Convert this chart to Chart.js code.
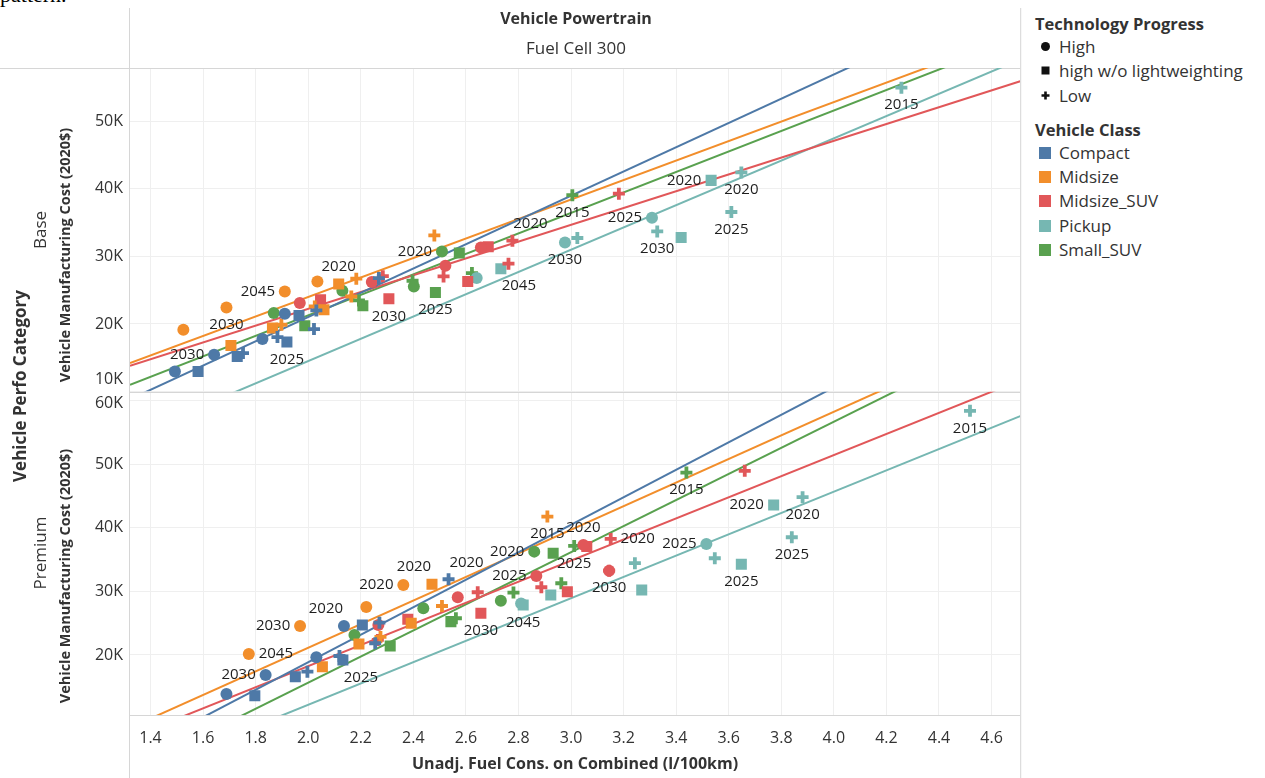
<!DOCTYPE html>
<html>
<head>
<meta charset="utf-8">
<title>Vehicle Manufacturing Cost vs Fuel Consumption – Fuel Cell 300</title>
<script src="https://cdn.jsdelivr.net/npm/chart.js@4/dist/chart.umd.min.js"></script>
<style>
  html, body { margin: 0; padding: 0; background: #fff; }
  body { width: 1265px; height: 778px; position: relative; overflow: hidden;
         font-family: "Open Sans", sans-serif; color: #333; }
  #wrap { position: absolute; left: 0; top: 0; width: 1030px; height: 778px; }
  .t { position: absolute; white-space: nowrap; line-height: 20px; }
  .c { transform: translate(-50%, -50%); }
  .rot { transform: translate(-50%, -50%) rotate(-90deg); }
  .b { font-weight: 700; }
  .sym { position: absolute; }
  .leg { position: absolute; left: 1059px; font-size: 17px; line-height: 20px; white-space: nowrap; color: #333; }
  .legtitle { position: absolute; left: 1035px; font-size: 16.5px; font-weight: 700; line-height: 20px; white-space: nowrap; color: #333; }
  .sw { position: absolute; left: 1039px; width: 12px; height: 12px; }
</style>
</head>
<body>
<div class="t" style="left:0;top:-15px;font-family:'Liberation Serif',serif;font-size:22px;color:#000;">pattern.</div>

<div id="wrap"><canvas id="chart" width="1030" height="778"></canvas></div>

<!-- column header -->
<div class="t c b" style="left:576px;top:18px;font-size:16px;">Vehicle Powertrain</div>
<div class="t c" style="left:576px;top:48px;font-size:17px;">Fuel Cell 300</div>

<!-- row headers and axis titles -->
<div class="t rot b" style="left:20px;top:386px;font-size:17px;">Vehicle Perfo Category</div>
<div class="t rot" style="left:40px;top:230px;font-size:17px;">Base</div>
<div class="t rot" style="left:40px;top:553px;font-size:17px;">Premium</div>
<div class="t rot b" style="left:65px;top:255px;font-size:14.5px;">Vehicle Manufacturing Cost (2020$)</div>
<div class="t rot b" style="left:65px;top:576px;font-size:14.5px;">Vehicle Manufacturing Cost (2020$)</div>

<!-- legends -->
<div class="legtitle" style="top:14px;">Technology Progress</div>
<svg class="sym" style="left:1040px;top:41px;" width="11" height="11"><circle cx="5.5" cy="5.5" r="4.5" fill="#111"/></svg>
<div class="leg" style="top:37px;">High</div>
<svg class="sym" style="left:1040px;top:65px;" width="11" height="11"><rect x="1.5" y="1.5" width="8" height="8" fill="#111"/></svg>
<div class="leg" style="top:61px;">high w/o lightweighting</div>
<svg class="sym" style="left:1040px;top:90px;" width="11" height="11"><path d="M5.5 1.5 V9.5 M1.5 5.5 H9.5" stroke="#111" stroke-width="2.6"/></svg>
<div class="leg" style="top:86px;">Low</div>

<div class="legtitle" style="top:120px;">Vehicle Class</div>
<div id="classLegend"></div>

<script>
// ---- categories ----
const vehicleClasses = ['Compact', 'Midsize', 'Midsize_SUV', 'Pickup', 'Small_SUV'];
const techCodes = ['H', 'W', 'L'];
const techLevels = ['High', 'high w/o lightweighting', 'Low'];

// ---- tick labels ----
const xTickValues = [1.4, 1.6, 1.8, 2.0, 2.2, 2.4, 2.6, 2.8, 3.0, 3.2, 3.4, 3.6, 3.8, 4.0, 4.2, 4.4, 4.6];
const baseTickValues = [10000, 20000, 30000, 40000, 50000];
const premiumTickValues = [20000, 30000, 40000, 50000, 60000];

// ---- axis ranges ----
const fuelRange = [1.322, 4.709];
const baseCostRange = [10000, 57900];
const premiumCostRange = [10570, 61400];

// ---- Base panel: [fuel l/100km, cost $, technology, year label] ----
const baseCompact = [
  [1.493, 12960, 'H', null], [1.581, 12960, 'W', null], [1.642, 15440, 'H', '2030'],
  [1.730, 15190, 'W', null], [1.752, 15690, 'L', null], [1.826, 17760, 'H', null],
  [1.883, 18060, 'L', null], [1.919, 17320, 'W', '2025'], [1.911, 21510, 'H', null],
  [1.965, 21260, 'W', null], [2.031, 22000, 'L', null], [2.022, 19240, 'L', null],
  [2.269, 26800, 'L', null]
];
const baseMidsize = [
  [1.525, 19140, 'H', null], [1.689, 22440, 'H', '2030'], [1.911, 24810, 'H', '2045'],
  [2.035, 26300, 'H', null], [1.706, 16810, 'W', null], [1.864, 19390, 'W', null],
  [1.898, 19880, 'L', null], [2.060, 22100, 'W', null], [2.025, 22590, 'L', null],
  [2.116, 25910, 'W', '2020'], [2.183, 26700, 'L', null], [2.164, 24070, 'L', null],
  [2.480, 33110, 'L', null]
];
const baseMidsizeSUV = [
  [1.968, 23100, 'H', null], [2.047, 23590, 'W', null], [2.242, 26200, 'H', null],
  [2.284, 27070, 'L', null], [2.307, 23730, 'W', '2030'], [2.522, 28620, 'H', null],
  [2.515, 27040, 'L', null], [2.607, 26300, 'W', null], [2.657, 31330, 'H', null],
  [2.685, 31440, 'W', null], [2.762, 28920, 'L', null], [2.777, 32330, 'L', '2020'],
  [3.182, 39290, 'L', null]
];
const basePickup = [
  [2.641, 26800, 'H', null], [2.733, 28180, 'W', '2045'], [2.977, 32070, 'H', '2030'],
  [3.024, 32730, 'L', null], [3.308, 35730, 'H', '2025'], [3.328, 33700, 'L', '2030'],
  [3.419, 32810, 'W', null], [3.533, 41260, 'W', '2020'], [3.648, 42440, 'L', '2020'],
  [3.610, 36580, 'L', '2025'], [4.257, 54990, 'L', '2015']
];
const baseSmallSUV = [
  [1.869, 21610, 'H', null], [1.987, 19730, 'W', null], [2.130, 24920, 'H', null],
  [2.193, 23480, 'L', null], [2.208, 22700, 'W', null], [2.402, 25560, 'H', null],
  [2.397, 26400, 'L', null], [2.484, 24670, 'W', '2025'], [2.509, 30740, 'H', '2020'],
  [2.575, 30500, 'W', null], [2.623, 27540, 'L', null], [3.005, 39070, 'L', '2015']
];

// ---- Premium panel ----
const premCompact = [
  [1.689, 13870, 'H', null], [1.797, 13600, 'W', null], [1.838, 16860, 'H', '2030'],
  [1.951, 16590, 'W', null], [1.997, 17370, 'L', null], [2.031, 19640, 'H', null],
  [2.132, 19210, 'W', '2025'], [2.119, 19840, 'L', null], [2.136, 24560, 'H', '2020'],
  [2.206, 24720, 'W', null], [2.271, 25080, 'L', null], [2.255, 21840, 'L', null],
  [2.534, 31900, 'L', '2020']
];
const premMidsize = [
  [1.774, 20160, 'H', '2045'], [1.969, 24560, 'H', '2030'], [2.221, 27550, 'H', null],
  [2.362, 31000, 'H', '2020'], [2.471, 31120, 'W', '2020'], [2.193, 21730, 'W', null],
  [2.054, 18160, 'W', null], [2.392, 24980, 'W', null], [2.275, 22830, 'L', null],
  [2.509, 27700, 'L', null], [2.910, 41750, 'L', '2015']
];
const premMidsizeSUV = [
  [2.267, 24720, 'H', null], [2.379, 25610, 'W', null], [2.265, 22360, 'L', null],
  [2.569, 29070, 'H', null], [2.645, 29860, 'L', null], [2.657, 26560, 'W', '2030'],
  [2.868, 32420, 'H', '2025'], [2.887, 30640, 'L', null], [2.986, 29950, 'W', null],
  [3.047, 37300, 'H', '2020'], [3.060, 37030, 'W', null], [3.151, 38240, 'L', '2020'],
  [3.145, 33250, 'H', null], [3.145, 33250, 'L', '2030'], [3.661, 48930, 'L', null]
];
const premPickup = [
  [2.810, 28100, 'H', null], [2.818, 27860, 'W', '2045'], [2.923, 29430, 'W', null],
  [3.243, 34420, 'L', null], [3.269, 30220, 'W', null], [3.515, 37450, 'H', '2025'],
  [3.547, 35200, 'L', null], [3.648, 34260, 'W', '2025'], [3.771, 43580, 'W', '2020'],
  [3.881, 44800, 'L', '2020'], [3.840, 38500, 'L', '2025'], [4.518, 58360, 'L', '2015']
];
const premSmallSUV = [
  [2.176, 23140, 'H', null], [2.312, 21420, 'W', null], [2.438, 27340, 'H', null],
  [2.543, 25240, 'W', null], [2.562, 25770, 'L', null], [2.733, 28540, 'H', null],
  [2.781, 29800, 'L', null], [2.860, 36240, 'H', '2020'], [2.932, 35990, 'W', null],
  [3.012, 37140, 'L', '2025'], [2.963, 31270, 'L', null], [3.439, 48660, 'L', '2015']
];

// ---- linear trend per class (cost at 1.4 and at 4.6 l/100km) ----
const baseTrendAt14 = [10250, 15330, 14770, 4610, 12170];
const baseTrendAt46 = [67720, 61510, 54580, 57380, 60710];
const premTrendAt14 = [5900, 10010, 8300, 2130, 3350];
const premTrendAt46 = [75020, 69340, 61360, 55700, 68950];

// ---- styling ----
const classColors = ['#4e79a7', '#f28e2b', '#e15759', '#76b7b2', '#59a14f'];
const techShapes = ['circle', 'rect', 'cross'];
const techRadius = [6, 7.8, 6];
const techBorder = [0, 0, 3.8];
// where each year label sits around its mark (default: below)
const baseLabelSide = {
  Compact: { 2: 'W' }, Midsize: { 2: 'W', 9: 'N' }, Midsize_SUV: { 11: 'NE' },
  Pickup: { 1: 'SE', 4: 'W', 7: 'W' }, Small_SUV: { 8: 'W' }
};
const premLabelSide = {
  Compact: { 2: 'W', 6: 'SE', 8: 'NW', 12: 'NE' },
  Midsize: { 0: 'E', 1: 'W', 3: 'W', 4: 'NW' },
  Midsize_SUV: { 6: 'W', 9: 'N', 11: 'E' },
  Pickup: { 5: 'W', 8: 'W' }, Small_SUV: { 7: 'W' }
};
const sideOffsets = { S: [0, 17.5], N: [0, -17.5], W: [-27, 0], E: [27, 0],
                      SE: [18, 17.5], NE: [18, -17], NW: [-18, -17] };
const gridColor = '#efefef';
const paneLineColor = '#d6d6d6';
const FONT = '"Open Sans", sans-serif';

// class legend swatches
const legendTops = [152.7, 176.7, 201, 226, 250];
document.getElementById('classLegend').innerHTML = vehicleClasses.map((c, i) =>
  `<div class="sw" style="top:${legendTops[i] - 6}px;background:${classColors[i]}"></div>` +
  `<div class="leg" style="top:${legendTops[i] - 10}px">${c}</div>`).join('');

function markDatasets(tables, sides, axisId, panelName) {
  const out = [];
  vehicleClasses.forEach((cls, ci) => {
    const rows = tables[ci];
    techCodes.forEach((code, ti) => {
      const idx = rows.map((r, i) => i).filter(i => rows[i][2] === code);
      if (!idx.length) return;
      out.push({
        label: `${panelName} · ${cls} · ${techLevels[ti]}`,
        yAxisID: axisId,
        data: idx.map(i => ({ x: rows[i][0], y: rows[i][1] })),
        yearLabels: idx.map(i => rows[i][3]),
        labelSides: idx.map(i => (sides[cls] && sides[cls][i]) || 'S'),
        pointStyle: techShapes[ti],
        pointRadius: techRadius[ti],
        pointBackgroundColor: classColors[ci],
        pointBorderColor: classColors[ci],
        pointBorderWidth: techBorder[ti],
        showLine: false,
        order: 0
      });
    });
  });
  return out;
}

function trendDatasets(at14, at46, axisId, panelName) {
  return vehicleClasses.map((cls, ci) => {
    const slope = (at46[ci] - at14[ci]) / (4.6 - 1.4);
    const costAt = x => at14[ci] + slope * (x - 1.4);
    return {
      label: `${panelName} · ${cls} trend`,
      yAxisID: axisId,
      data: fuelRange.map(x => ({ x, y: costAt(x) })),
      showLine: true,
      pointRadius: 0,
      borderColor: classColors[ci],
      borderWidth: 2,
      order: 1
    };
  });
}

const baseTables = [baseCompact, baseMidsize, baseMidsizeSUV, basePickup, baseSmallSUV];
const premTables = [premCompact, premMidsize, premMidsizeSUV, premPickup, premSmallSUV];

const datasets = [
  ...trendDatasets(baseTrendAt14, baseTrendAt46, 'yBase', 'Base'),
  ...trendDatasets(premTrendAt14, premTrendAt46, 'yPremium', 'Premium'),
  ...markDatasets(baseTables, baseLabelSide, 'yBase', 'Base'),
  ...markDatasets(premTables, premLabelSide, 'yPremium', 'Premium')
];

// keep every dataset inside its own panel
const panelClip = {
  id: 'panelClip',
  beforeDatasetDraw(chart, args) {
    const ds = chart.data.datasets[args.index];
    const s = chart.scales[ds.yAxisID];
    const a = chart.chartArea;
    const ctx = chart.ctx;
    ctx.save();
    ctx.beginPath();
    ctx.rect(a.left, s.top, a.right - a.left, s.bottom - s.top);
    ctx.clip();
  },
  afterDatasetDraw(chart) { chart.ctx.restore(); }
};

// pane borders and y tick labels kept inside their pane
const paneFrame = {
  id: 'paneFrame',
  beforeDatasetsDraw(chart) {
    const ctx = chart.ctx, a = chart.chartArea;
    const mid = chart.scales.yBase.bottom;
    ctx.save();
    ctx.strokeStyle = paneLineColor;
    ctx.lineWidth = 1;
    ctx.beginPath();
    ctx.moveTo(0, a.top + 0.5); ctx.lineTo(a.right, a.top + 0.5);
    ctx.moveTo(a.left, Math.round(mid) + 0.5); ctx.lineTo(a.right, Math.round(mid) + 0.5);
    ctx.moveTo(a.left, a.bottom + 0.5); ctx.lineTo(a.right, a.bottom + 0.5);
    ctx.moveTo(a.left - 0.5, 8); ctx.lineTo(a.left - 0.5, chart.height);
    ctx.moveTo(a.right + 0.5, 8); ctx.lineTo(a.right + 0.5, chart.height);
    ctx.stroke();

    ctx.fillStyle = '#333';
    ctx.font = '16px ' + FONT;
    ctx.textAlign = 'right';
    ctx.textBaseline = 'middle';
    [['yBase', baseTickValues], ['yPremium', premiumTickValues]].forEach(([id, ticks]) => {
      const s = chart.scales[id];
      ticks.forEach(v => {
        let y = s.getPixelForValue(v);
        y = Math.min(Math.max(y, s.top + 12), s.bottom - 12);
        ctx.fillText((v / 1000) + 'K', a.left - 7, y);
      });
    });
    ctx.restore();
  }
};

// year labels next to their marks
const yearLabels = {
  id: 'yearLabels',
  afterDatasetsDraw(chart) {
    const ctx = chart.ctx;
    ctx.save();
    ctx.font = '15px ' + FONT;
    ctx.fillStyle = '#1e1e1e';
    ctx.textAlign = 'center';
    ctx.textBaseline = 'middle';
    chart.data.datasets.forEach((ds, di) => {
      if (!ds.yearLabels) return;
      const meta = chart.getDatasetMeta(di);
      ds.yearLabels.forEach((txt, i) => {
        if (!txt) return;
        const el = meta.data[i];
        const [dx, dy] = sideOffsets[ds.labelSides[i]];
        ctx.fillText(txt, el.x + dx, el.y + dy);
      });
    });
    ctx.restore();
  }
};

Chart.defaults.font.family = FONT;
Chart.defaults.color = '#333';

new Chart(document.getElementById('chart'), {
  type: 'scatter',
  data: { datasets },
  options: {
    responsive: false,
    devicePixelRatio: 1,
    animation: false,
    events: [],
    layout: { padding: { top: 68, left: 0, right: 8, bottom: 0 } },
    plugins: { legend: { display: false }, tooltip: { enabled: false } },
    scales: {
      x: {
        type: 'linear',
        min: fuelRange[0], max: fuelRange[1],
        afterBuildTicks: s => { s.ticks = xTickValues.map(v => ({ value: v })); },
        afterFit: s => { s.height = 63; },
        ticks: { callback: v => Number(v).toFixed(1), font: { size: 16 }, color: '#333',
                 padding: 14, autoSkip: false, maxRotation: 0 },
        grid: { color: gridColor, drawTicks: false },
        border: { display: false },
        title: { display: true, text: 'Unadj. Fuel Cons. on Combined (l/100km)',
                 font: { size: 16, weight: 'bold' }, color: '#333', padding: { top: 0, bottom: 4 } }
      },
      yBase: {
        type: 'linear', position: 'left', stack: 'rows', stackWeight: 1, weight: 1,
        min: baseCostRange[0], max: baseCostRange[1],
        afterBuildTicks: s => { s.ticks = baseTickValues.map(v => ({ value: v })); },
        afterFit: s => { s.width = 130; },
        ticks: { display: false },
        grid: { color: gridColor, drawTicks: false },
        border: { display: false }
      },
      yPremium: {
        type: 'linear', position: 'left', stack: 'rows', stackWeight: 1, weight: 0,
        min: premiumCostRange[0], max: premiumCostRange[1],
        afterBuildTicks: s => { s.ticks = premiumTickValues.map(v => ({ value: v })); },
        afterFit: s => { s.width = 130; },
        ticks: { display: false },
        grid: { color: gridColor, drawTicks: false },
        border: { display: false }
      }
    }
  },
  plugins: [panelClip, paneFrame, yearLabels]
});
</script>
</body>
</html>
